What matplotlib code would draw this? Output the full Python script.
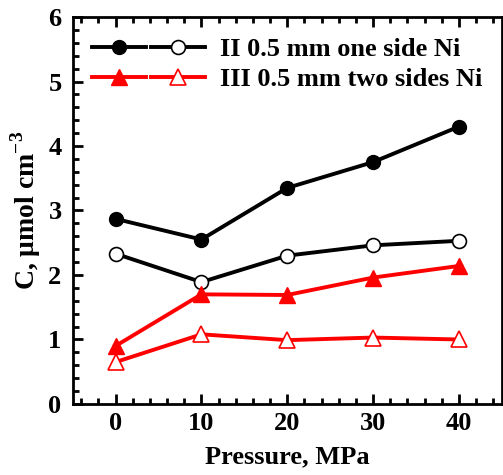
import matplotlib
matplotlib.use("Agg")
import matplotlib.pyplot as plt
from matplotlib.legend_handler import HandlerTuple
from matplotlib.ticker import MultipleLocator

plt.rcParams['font.family'] = ['Liberation Serif', 'DejaVu Serif']
plt.rcParams['font.weight'] = 'bold'
plt.rcParams['mathtext.fontset'] = 'custom'
plt.rcParams['mathtext.rm'] = 'Liberation Serif:bold'
plt.rcParams['mathtext.bf'] = 'Liberation Serif:bold'

pressure = [0, 10, 20, 30, 40]
ii_filled = [2.87, 2.55, 3.35, 3.75, 4.30]
ii_open = [2.33, 1.89, 2.30, 2.46, 2.53]
iii_filled = [0.90, 1.70, 1.69, 1.96, 2.14]
iii_open = [0.65, 1.08, 0.99, 1.03, 1.00]
labels = ["II 0.5 mm one side Ni", "III 0.5 mm two sides Ni"]
xticks = [0, 10, 20, 30, 40]
yticks = [0, 1, 2, 3, 4, 5, 6]

fig = plt.figure(figsize=(5.03, 4.75), dpi=100)
ax = fig.add_axes([0.1445, 0.1495, 0.853, 0.8147])

lw = 2.8
ms = 10
l1, = ax.plot(pressure, ii_filled, '-o', color='black', lw=lw, ms=ms, mfc='black', mec='black')
l2, = ax.plot(pressure, ii_open, '-o', color='black', lw=lw, ms=ms, mfc='white', mec='black', mew=1.2)
l3, = ax.plot(pressure, iii_filled, '-^', color='red', lw=lw, ms=ms + 1, mfc='red', mec='red')
l4, = ax.plot(pressure, iii_open, '-^', color='red', lw=lw, ms=ms + 1, mfc='white', mec='red', mew=1.2)

ax.set_xlim(-5, 45)
ax.set_ylim(0, 6)
ax.set_xticks(xticks)
ax.set_yticks(yticks)
ax.xaxis.set_minor_locator(MultipleLocator(2))
ax.yaxis.set_minor_locator(MultipleLocator(0.2))
ax.tick_params(axis='both', which='major', direction='in', length=7, width=2, labelsize=19, top=True, right=False)
ax.tick_params(axis='both', which='minor', direction='in', length=4, width=2, top=True, right=False)
ax.tick_params(axis='x', which='major', pad=6)
ax.tick_params(axis='y', which='major', pad=8)
for s in ax.spines.values():
    s.set_linewidth(2)
for lab in ax.get_xticklabels() + ax.get_yticklabels():
    lab.set_fontweight('bold')

ax.set_xlabel("Pressure, MPa", fontsize=19, fontweight='bold', labelpad=7)
ax.set_ylabel(r"C, μmol cm$^{-3}$", fontsize=20, fontweight='bold', labelpad=4)

leg = ax.legend([(l1, l2), (l3, l4)], labels,
                handler_map={tuple: HandlerTuple(ndivide=None, pad=0.2)},
                loc='upper left', bbox_to_anchor=(-0.011, 1.008), frameon=False,
                handlelength=4.3, handletextpad=0.57, labelspacing=0.25,
                borderpad=0.4, prop={'weight': 'bold', 'size': 19})

fig.savefig("out.png", dpi=100)
